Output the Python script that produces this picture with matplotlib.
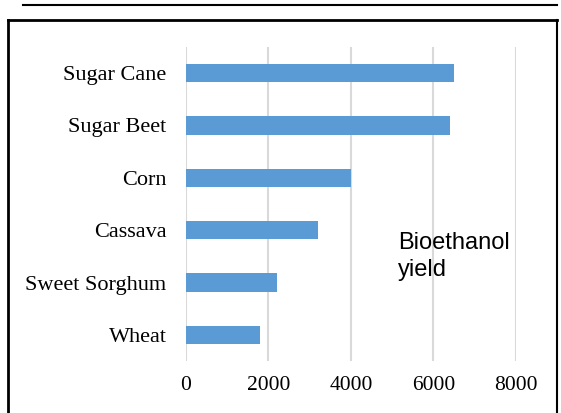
import matplotlib.pyplot as plt
from matplotlib.lines import Line2D

crops = ['Sugar Cane', 'Sugar Beet', 'Corn', 'Cassava', 'Sweet Sorghum', 'Wheat']
yields = [6500, 6400, 4000, 3200, 2200, 1800]
xticks = [0, 2000, 4000, 6000, 8000]

fig = plt.figure(figsize=(5.61, 4.13), dpi=100)
ax = fig.add_axes([0.3316, 0.1254, 0.588, 0.7613])

pos = list(range(len(crops)))[::-1]
ax.barh(pos, yields, height=0.35, color='#5B9BD5', zorder=3)

ax.set_xlim(0, 8000)
ax.set_ylim(-0.5, len(crops) - 0.5)
ax.set_xticks(xticks)
ax.set_yticks(pos)
ax.set_yticklabels(crops)
ax.grid(axis='x', color='#d9d9d9', linewidth=1.5, zorder=0)
for s in ax.spines.values():
    s.set_visible(False)
ax.tick_params(length=0)
ax.tick_params(axis='y', pad=14, labelsize=16)
ax.tick_params(axis='x', pad=11, labelsize=15.5)
for lab in ax.get_xticklabels() + ax.get_yticklabels():
    lab.set_fontfamily('Liberation Serif')

ax.text(5140, 1.5, 'Bioethanol\nyield', fontsize=17, family='Liberation Sans',
        va='center', ha='left', linespacing=1.3)

# frame around the chart and the rule above it
fig.add_artist(Line2D([23/561, 557/561], [1 - 4.5/413, 1 - 4.5/413], color='black', lw=1.5))
fig.add_artist(Line2D([8/561, 8/561], [0, 1 - 20/413], color='black', lw=2))
fig.add_artist(Line2D([8/561, 557/561], [1 - 20/413, 1 - 20/413], color='black', lw=2))
fig.add_artist(Line2D([557/561, 557/561], [0, 1 - 20/413], color='black', lw=1.5))

fig.savefig('out.png', dpi=100)
